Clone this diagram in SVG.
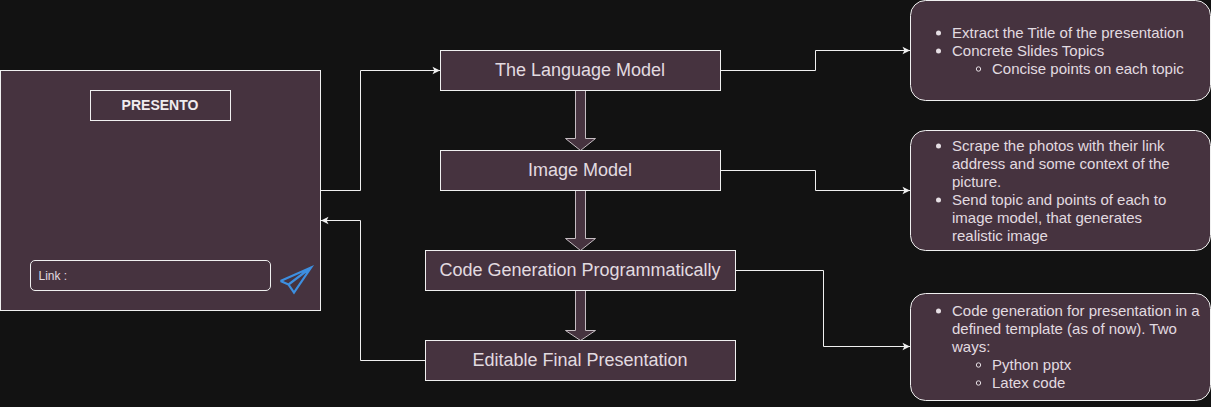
<svg xmlns="http://www.w3.org/2000/svg" width="1211" height="407" viewBox="0 0 1211 407">
<defs>
<marker id="a" markerUnits="userSpaceOnUse" markerWidth="10" markerHeight="10" refX="7.500" refY="0" orient="auto" overflow="visible"><path d="M0 -3.800L7.500 0L0 3.800L1.800 0Z" fill="#f0f0f0"/></marker>
</defs>
<style>
.box{fill:#46333f;stroke:#f0f0f0;stroke-width:1}
.c{fill:none;stroke:#f0f0f0;stroke-width:1;marker-end:url(#a)}
.big{font-family:"Liberation Sans",Arial,sans-serif;font-size:18px;fill:#e2dbe0;text-anchor:middle}
.t{font-family:"Liberation Sans",Arial,sans-serif;font-size:15px;fill:#e2dbe0}
.b{fill:#e6dfe4}
.o{fill:none;stroke:#e6dfe4;stroke-width:1}
.f{fill:#46333f;stroke:#c4bcc1;stroke-width:1}
</style>
<rect width="1211" height="407" fill="#121212"/>
<g id="connectors">
<path class="c" d="M320.500 190.500H360.500V70.500H440"/>
<path class="c" d="M425.500 360.500H360.500V220.500H321"/>
<path class="c" d="M720.500 70.500H815.500V50.500H910"/>
<path class="c" d="M720.500 170.500H815.500V190.500H910"/>
<path class="c" d="M735.500 270.500H823.500V346.500H910"/>
<path class="f" d="M575.500 90.500V138.500H565.500L580.500 150.500L595.500 138.500H585.500V90.500Z"/>
<path class="f" d="M575.500 190.500V238.500H565.500L580.500 250.500L595.500 238.500H585.500V190.500Z"/>
<path class="f" d="M575.500 290.500V330.500H565.500L580.500 340.500L595.500 330.500H585.500V290.500Z"/>
</g>
<g id="presento">
<rect class="box" x="0.500" y="70.500" width="320" height="240"/>
<rect class="box" x="90.500" y="90.500" width="140" height="30"/>
<text x="160" y="110" text-anchor="middle" font-family="Liberation Sans, Arial, sans-serif" font-size="14" font-weight="bold" fill="#f0ecef">PRESENTO</text>
<rect class="box" x="30.500" y="260.500" width="240" height="30" rx="4.500"/>
<text x="38.500" y="279.500" font-family="Liberation Sans, Arial, sans-serif" font-size="12" fill="#e2dbe0">Link :</text>
<path d="M280.500 281L311 267.500L294 292.500L288.500 284.500L311 267.500M280.500 281L288.500 284.500" fill="none" stroke="#3d8fe0" stroke-width="2.200" stroke-linejoin="miter"/>
</g>
<g id="language-model"><rect class="box" x="440.500" y="50.500" width="280" height="40"/><text class="big" x="580" y="76">The Language Model</text></g>
<g id="image-model"><rect class="box" x="440.500" y="150.500" width="280" height="40"/><text class="big" x="580" y="176">Image Model</text></g>
<g id="code-generation"><rect class="box" x="425.500" y="250.500" width="310" height="40"/><text class="big" x="580" y="276">Code Generation Programmatically</text></g>
<g id="final-presentation"><rect class="box" x="425.500" y="340.500" width="310" height="40"/><text class="big" x="580" y="366">Editable Final Presentation</text></g>
<g id="note-1">
<rect class="box" x="910.500" y="0.500" width="300" height="100" rx="15"/>
<circle class="b" cx="938.500" cy="33" r="2.500"/><text class="t" x="952" y="38">Extract the Title of the presentation</text>
<circle class="b" cx="938.500" cy="51" r="2.500"/><text class="t" x="952" y="56">Concrete Slides Topics</text>
<circle class="o" cx="978.500" cy="69" r="2.200"/><text class="t" x="992" y="74">Concise points on each topic</text>
</g>
<g id="note-2">
<rect class="box" x="910.500" y="130.500" width="300" height="120" rx="15"/>
<circle class="b" cx="938.500" cy="146" r="2.500"/><text class="t" x="952" y="151">Scrape the photos with their link</text>
<text class="t" x="952" y="169">address and some context of the</text>
<text class="t" x="952" y="187">picture.</text>
<circle class="b" cx="938.500" cy="200" r="2.500"/><text class="t" x="952" y="205">Send topic and points of each to</text>
<text class="t" x="952" y="223">image model, that generates</text>
<text class="t" x="952" y="241">realistic image</text>
</g>
<g id="note-3">
<rect class="box" x="910.500" y="293.500" width="300" height="107" rx="15"/>
<circle class="b" cx="938.500" cy="311" r="2.500"/><text class="t" x="952" y="316">Code generation for presentation in a</text>
<text class="t" x="952" y="334">defined template (as of now). Two</text>
<text class="t" x="952" y="352">ways:</text>
<circle class="o" cx="978.500" cy="365" r="2.200"/><text class="t" x="992" y="370">Python pptx</text>
<circle class="o" cx="978.500" cy="383" r="2.200"/><text class="t" x="992" y="388">Latex code</text>
</g>
</svg>
